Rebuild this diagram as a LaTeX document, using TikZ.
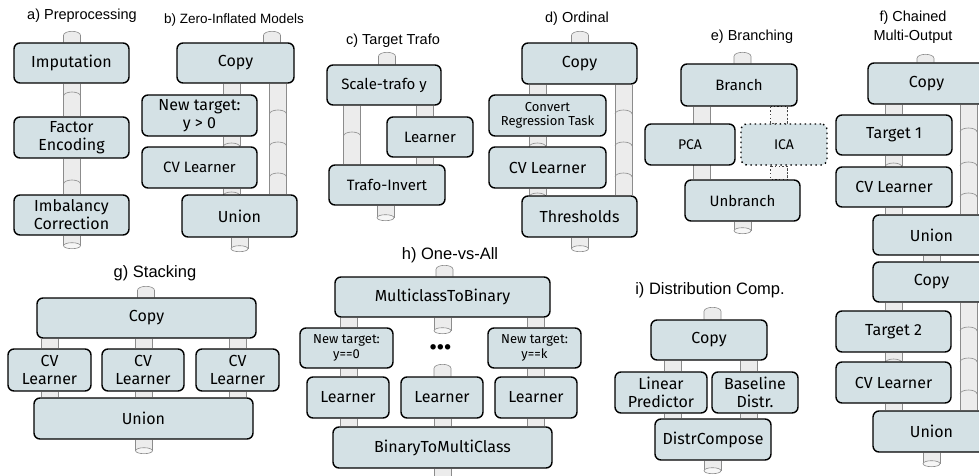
\documentclass[tikz,border=0pt]{standalone}
\usepackage{fontspec}
\setmainfont{Liberation Sans}
\newfontfamily\boxfont{Fira Sans}
\usetikzlibrary{backgrounds}

\definecolor{boxfill}{HTML}{D4E1E5}
\definecolor{pipefill}{HTML}{ECECEC}
\definecolor{pipeend}{HTML}{F6F6F6}
\definecolor{pipegray}{HTML}{8C8C8C}

\tikzset{
  op/.style={rectangle, rounded corners=6pt, draw=black, line width=1.4pt, fill=boxfill,
             font=\boxfont\fontsize{16}{18}\selectfont, align=center, inner sep=1pt,
             minimum width=115pt, minimum height=40pt},
  opsmall/.style={op, font=\boxfont\fontsize{13}{14.5}\selectfont},
  opmid/.style={op, font=\boxfont\fontsize{15}{17}\selectfont},
  title/.style={font=\fontsize{14.5}{19}\selectfont, align=center},
  bigtitle/.style={font=\fontsize{16.5}{19}\selectfont, align=center},
  pipeline/.style={draw=pipegray, line width=0.6pt},
}

% pipe between two boxes: x, upper node, lower node
\newcommand{\pipe}[4][]{%
  \fill[pipefill,#1] (#2-8.5,0 |- #3.south) rectangle (#2+8.5,0 |- #4.north);
  \draw[pipeline,#1] (#2-8.5,0 |- #3.south) -- (#2-8.5,0 |- #4.north)
                     (#2+8.5,0 |- #3.south) -- (#2+8.5,0 |- #4.north);}
% open pipe end entering a box from above: x, node, length
\newcommand{\pipein}[3]{%
  \filldraw[pipeline, fill=pipefill] (#1-8.5,0 |- #2.north) -- ++(0,-#3+4)
    arc[start angle=180, end angle=0, x radius=8.5pt, y radius=4pt] -- (#1+8.5,0 |- #2.north);}
% pipe leaving a box downwards: x, node, length
\newcommand{\pipeout}[3]{%
  \fill[pipefill] (#1-8.5,0 |- #2.south) rectangle ++(17,#3);
  \draw[pipeline] (#1-8.5,0 |- #2.south) -- ++(0,#3) (#1+8.5,0 |- #2.south) -- ++(0,#3);
  \filldraw[pipeline, fill=pipeend] (#1,0 |- #2.south) ++(0,#3) ellipse[x radius=8.5pt, y radius=3pt];}
% joint inside a pipe: x, y
\newcommand{\joint}[2]{%
  \draw[pipeline] (#1-8.5,#2+4) arc[start angle=180, end angle=0, x radius=8.5pt, y radius=4pt];}

\begin{document}
\begin{tikzpicture}[x=1pt, y=-1pt]
  \useasboundingbox (0,0) rectangle (979,476);

  % a) preprocessing chain
  \node[title] (ta) at (82,16) {a) Preprocessing};
  \node[op] (imp) at (71.5,63) {Imputation};
  \node[op, minimum height=41pt] (fenc) at (71.5,137.5) {Factor\\Encoding};
  \node[op] (imbal) at (71.5,215) {Imbalancy\\Correction};

  % b) zero-inflated
  \node[title, font=\fontsize{13.5}{16}\selectfont] (tb) at (234,20) {b) Zero-Inflated Models};
  \node[op, minimum width=117pt] (copyb) at (235.5,63) {Copy};
  \node[op, minimum height=41pt] (ntb) at (199.5,115.5) {New target:\\y > 0};
  \node[opmid, minimum height=41pt] (cvb) at (199.5,167.5) {CV Learner};
  \node[op, minimum height=42pt] (unionb) at (239.5,216) {Union};

  % c) target trafo
  \node[title] (tc) at (393,41) {c) Target Trafo};
  \node[opmid, minimum width=114pt] (scale) at (384,85) {Scale-trafo y};
  \node[opmid, minimum width=86pt] (lrnc) at (430,137) {Learner};
  \node[opmid, minimum width=116pt] (inv) at (387,185) {Trafo-Invert};

  % d) ordinal
  \node[title] (td) at (577,19) {d) Ordinal};
  \node[op, minimum height=41pt] (copyd) at (579.5,63.5) {Copy};
  \node[opsmall, minimum width=117pt, minimum height=41pt] (conv) at (547.5,115.5) {Convert\\Regression Task};
  \node[op, minimum width=117pt, minimum height=41pt] (cvd) at (547.5,167.5) {CV Learner};
  \node[op, minimum height=41pt] (thr) at (579.5,216.5) {Thresholds};

  % e) branching
  \node[title] (te) at (752,37) {e) Branching};
  \node[opmid, minimum width=116pt, minimum height=42pt] (branch) at (739,85) {Branch};
  \node[op, minimum width=90pt, minimum height=41pt, font=\boxfont\fontsize{14}{16}\selectfont] (pca) at (690,144.5) {PCA};
  \node[op, minimum width=86pt, minimum height=41pt, font=\boxfont\fontsize{14}{16}\selectfont,
        dash pattern=on 1.5pt off 3.5pt] (ica) at (784,144.5) {ICA};
  \node[opmid, minimum height=41pt] (unbranch) at (742.5,200.5) {Unbranch};

  % f) chained multi-output
  \node[title] (tf) at (913,27) {f) Chained\\Multi-Output};
  \node[op, minimum width=117pt, minimum height=41pt] (copyfa) at (926.5,83.5) {Copy};
  \node[op, minimum width=116pt] (tgta) at (894,135) {Target 1};
  \node[op, minimum width=116pt] (cvfa) at (894,187) {CV Learner};
  \node[op, minimum width=117pt] (unionfa) at (931.5,235) {Union};
  \node[op, minimum width=117pt] (copyfb) at (931.5,282) {Copy};
  \node[op, minimum height=41pt] (tgtb) at (893.5,331.5) {Target 2};
  \node[op, minimum height=41pt] (cvfb) at (893.5,382.5) {CV Learner};
  \node[op, minimum width=117pt, minimum height=41pt] (unionfb) at (931.5,431.5) {Union};

  % g) stacking
  \node[bigtitle] (tg) at (155,273) {g) Stacking};
  \node[op, minimum width=219pt] (copyg) at (146.5,318) {Copy};
  \node[op, minimum width=83pt, minimum height=42pt] (cvga) at (49.5,370) {CV\\Learner};
  \node[op, minimum width=82pt, minimum height=42pt] (cvgb) at (143,370) {CV\\Learner};
  \node[op, minimum width=83pt, minimum height=42pt] (cvgc) at (237.5,370) {CV\\Learner};
  \node[op, minimum width=219pt, minimum height=41pt] (uniong) at (143.5,418.5) {Union};

  % h) one-vs-all
  \node[bigtitle] (th) at (450,255) {h) One-vs-All};
  \node[op, minimum width=215pt] (mtob) at (442.5,297) {MulticlassToBinary};
  \node[opsmall, minimum width=93pt] (ntzero) at (346.5,348) {New target:\\y==0};
  \node[opsmall, minimum width=93pt] (ntk) at (534.5,348) {New target:\\y==k};
  \node[font=\boxfont\bfseries\fontsize{30}{30}\selectfont, inner sep=0pt] (dots) at (440.5,347) {...};
  \node[op, minimum width=82pt, minimum height=41pt] (lrna) at (348,397.5) {Learner};
  \node[op, minimum width=82pt, minimum height=41pt] (lrnb) at (442,397.5) {Learner};
  \node[op, minimum width=82pt, minimum height=41pt] (lrnk) at (536,397.5) {Learner};
  \node[op, minimum width=219pt, minimum height=41pt] (btom) at (442.5,447.5) {BinaryToMultiClass};

  % i) distribution composition
  \node[bigtitle] (ti) at (710,290) {i) Distribution Comp.};
  \node[op, minimum width=116pt] (copyi) at (709,340) {Copy};
  \node[op, minimum width=92pt, minimum height=41pt] (linpred) at (661,392.5) {Linear\\Predictor};
  \node[op, minimum width=86pt, minimum height=41pt] (basedist) at (755,392.5) {Baseline\\Distr.};
  \node[op, minimum width=116pt, minimum height=41pt] (dcomp) at (713,439.5) {DistrCompose};

  % pipes behind the boxes
  \begin{scope}[on background layer]
    % a
    \pipein{72}{imp}{11}
    \pipe{72}{imp}{fenc} \joint{72}{92}
    \pipe{72}{fenc}{imbal} \joint{72}{180}
    \pipeout{72}{imbal}{10}
    % b
    \pipein{272}{copyb}{11}
    \pipe{231.5}{copyb}{ntb}
    \pipe{231.5}{ntb}{cvb} \joint{231.5}{143}
    \pipe{231.5}{cvb}{unionb} \joint{231.5}{192}
    \pipe{278}{copyb}{unionb}
    \joint{278}{110} \joint{278}{142} \joint{278}{173}
    \pipeout{239.5}{unionb}{11}
    % c
    \pipein{387}{scale}{12}
    \pipe{352}{scale}{inv} \joint{352}{132}
    \pipe{424.5}{scale}{lrnc}
    \pipe{424.5}{lrnc}{inv}
    \pipeout{385.5}{inv}{12}
    % d
    \pipein{580}{copyd}{11}
    \pipe{537.5}{copyd}{conv}
    \pipe{537.5}{conv}{cvd} \joint{537.5}{143}
    \pipe{537.5}{cvd}{thr} \joint{537.5}{193}
    \pipe{623.5}{copyd}{thr}
    \joint{623.5}{110} \joint{623.5}{142} \joint{623.5}{173}
    \pipeout{580}{thr}{11}
    % e
    \pipein{742.5}{branch}{11}
    \pipe{702}{branch}{unbranch}
    \pipe[dash pattern=on 1.2pt off 2.5pt, draw=black!75, fill=pipeend]{779}{branch}{ica}
    \pipe[dash pattern=on 1.2pt off 2.5pt, draw=black!75, fill=pipeend]{779}{ica}{unbranch}
    \pipeout{742.5}{unbranch}{9}
    % f
    \pipein{925.5}{copyfa}{8}
    \pipe{893.5}{copyfa}{tgta}
    \pipe{893.5}{tgta}{cvfa} \joint{893.5}{163}
    \pipe{893.5}{cvfa}{unionfa}
    \pipe{968.5}{copyfa}{unionfa}
    \joint{968.5}{128} \joint{968.5}{162} \joint{968.5}{193}
    \pipe{931.5}{unionfa}{copyfb}
    \pipe{893.5}{copyfb}{tgtb}
    \pipe{893.5}{tgtb}{cvfb} \joint{893.5}{359}
    \pipe{893.5}{cvfb}{unionfb}
    \pipe{968.5}{copyfb}{unionfb}
    \joint{968.5}{327} \joint{968.5}{358} \joint{968.5}{390}
    \pipeout{931.5}{unionfb}{11}
    % g
    \pipein{146}{copyg}{11}
    \pipe{50}{copyg}{cvga} \pipe{50}{cvga}{uniong}
    \pipe{144}{copyg}{cvgb} \pipe{144}{cvgb}{uniong}
    \pipe{238}{copyg}{cvgc} \pipe{238}{cvgc}{uniong}
    \pipeout{144}{uniong}{11}
    % h
    \pipein{444.5}{mtob}{11}
    \pipe{348.5}{mtob}{ntzero} \pipe{348.5}{ntzero}{lrna} \pipe{348.5}{lrna}{btom}
    \pipe{536}{mtob}{ntk} \pipe{536}{ntk}{lrnk} \pipe{536}{lrnk}{btom}
    \pipeout{442.5}{mtob}{13}
    \pipein{442.5}{lrnb}{12}
    \pipe{442.5}{lrnb}{btom}
    \pipeout{442.5}{btom}{11}
    % i
    \pipein{712.5}{copyi}{12}
    \pipe{672.5}{copyi}{linpred} \pipe{672.5}{linpred}{dcomp}
    \pipe{749}{copyi}{basedist} \pipe{749}{basedist}{dcomp}
    \pipeout{712.5}{dcomp}{10}
  \end{scope}
\end{tikzpicture}
\end{document}
